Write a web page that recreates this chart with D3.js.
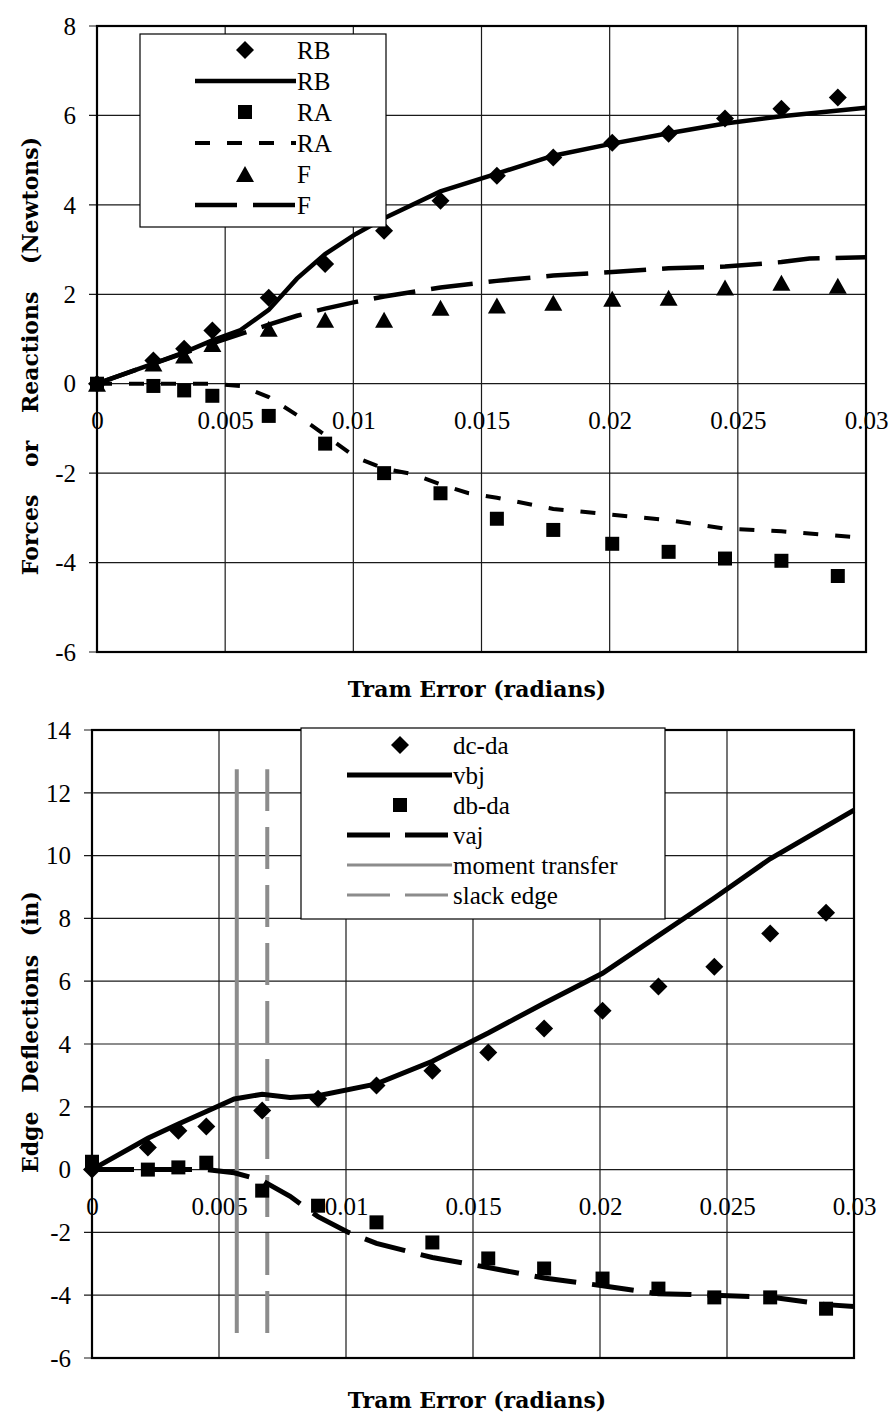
<!DOCTYPE html>
<html>
<head>
<meta charset="utf-8">
<script src="https://cdn.jsdelivr.net/npm/d3@7"></script>
<style>
  body { margin: 0; background: #fff; }
  svg { display: block; }
  text { font-family: "Liberation Serif", "Times New Roman", serif; fill: #000; }
  text.title { font-family: "DejaVu Serif", serif; font-weight: bold; }
</style>
</head>
<body>
<svg id="chart" width="891" height="1418"></svg>
<script>
// ---- data ----
const xTicks = [0, 0.005, 0.01, 0.015, 0.02, 0.025, 0.03];
const forceTicks = [-6, -4, -2, 0, 2, 4, 6, 8];
const deflTicks = [-6, -4, -2, 0, 2, 4, 6, 8, 10, 12, 14];

// measured points (markers), same tram error steps in both panels
const xMeas = [0, 0.0022, 0.0034, 0.0045, 0.0067, 0.0089, 0.0112, 0.0134, 0.0156, 0.0178, 0.0201, 0.0223, 0.0245, 0.0267, 0.0289];
const rbMeas = [0, 0.52, 0.78, 1.19, 1.92, 2.68, 3.42, 4.09, 4.65, 5.06, 5.39, 5.59, 5.93, 6.15, 6.4];
const raMeas = [0, -0.05, -0.15, -0.27, -0.72, -1.34, -2.0, -2.45, -3.02, -3.27, -3.58, -3.76, -3.91, -3.96, -4.3];
const fMeas = [0, 0.45, 0.63, 0.89, 1.23, 1.43, 1.43, 1.7, 1.75, 1.81, 1.9, 1.92, 2.15, 2.26, 2.19];
const dcdaMeas = [0, 0.7, 1.24, 1.37, 1.88, 2.26, 2.68, 3.15, 3.73, 4.49, 5.06, 5.83, 6.46, 7.52, 8.18];
const dbdaMeas = [0.25, 0, 0.07, 0.22, -0.67, -1.15, -1.68, -2.32, -2.83, -3.15, -3.47, -3.79, -4.07, -4.07, -4.43];

// model curves
const rbLineX = [0, 0.0022, 0.0034, 0.0045, 0.0056, 0.0067, 0.0078, 0.0089, 0.0101, 0.0112, 0.0134, 0.0156, 0.0178, 0.0201, 0.0223, 0.0245, 0.0267, 0.03];
const rbLine = [0, 0.45, 0.7, 0.97, 1.2, 1.65, 2.35, 2.9, 3.35, 3.7, 4.3, 4.7, 5.1, 5.37, 5.6, 5.82, 5.98, 6.17];
const raLineX = [0, 0.0045, 0.0056, 0.0067, 0.0078, 0.0089, 0.0101, 0.0112, 0.0123, 0.0134, 0.0145, 0.0156, 0.0178, 0.0201, 0.0223, 0.0245, 0.0267, 0.03];
const raLine = [0, 0, -0.05, -0.3, -0.7, -1.15, -1.65, -1.9, -2.02, -2.25, -2.45, -2.55, -2.8, -2.93, -3.05, -3.24, -3.3, -3.45];
const fLineX = [0, 0.0022, 0.0045, 0.0067, 0.0078, 0.0089, 0.0101, 0.0112, 0.0134, 0.0156, 0.0178, 0.0201, 0.0223, 0.0245, 0.0267, 0.0278, 0.03];
const fLine = [0, 0.45, 0.9, 1.32, 1.52, 1.68, 1.83, 1.95, 2.15, 2.3, 2.42, 2.5, 2.58, 2.62, 2.72, 2.8, 2.83];
const vbjX = [0, 0.0022, 0.0034, 0.0045, 0.0056, 0.0067, 0.0078, 0.0089, 0.0112, 0.0134, 0.0156, 0.0178, 0.0201, 0.0223, 0.0245, 0.0267, 0.03];
const vbj = [0, 1.0, 1.45, 1.85, 2.25, 2.4, 2.3, 2.35, 2.73, 3.45, 4.35, 5.3, 6.25, 7.45, 8.65, 9.9, 11.45];
const vajX = [0, 0.0045, 0.0056, 0.0067, 0.0078, 0.0089, 0.0101, 0.0112, 0.0134, 0.0156, 0.0178, 0.0201, 0.0223, 0.0245, 0.0267, 0.0289, 0.03];
const vaj = [0, 0, -0.1, -0.35, -0.85, -1.5, -2.0, -2.35, -2.8, -3.12, -3.45, -3.7, -3.95, -4.0, -4.06, -4.3, -4.36];

// vertical markers (x position, y extent)
const momentX = [0.0057, 0.0057], momentY = [-5.2, 12.75];
const slackX = [0.0069, 0.0069], slackY = [-5.2, 12.75];

// ---- drawing ----
const svg = d3.select("#chart");
const serif = "'Liberation Serif', 'Times New Roman', serif";
const fmtX = d => String(+d.toFixed(3));

const symbols = {
    diamond: "M0,-9L9,0L0,9L-9,0Z",
    square: "M-7,-7h14v14h-14Z",
    triangle: "M0,-8L9,8L-9,8Z"
};

function drawPanel(cfg) {
    const g = svg.append("g");
    const x = d3.scaleLinear().domain([0, 0.03]).range([cfg.left, cfg.right]);
    const y = d3.scaleLinear().domain(cfg.yDomain).range([cfg.bottom, cfg.top]);

    // grid
    g.append("g").selectAll("line").data(cfg.yTicks).enter().append("line")
        .attr("x1", cfg.left - 8).attr("x2", cfg.right)
        .attr("y1", d => y(d)).attr("y2", d => y(d))
        .attr("stroke", "#1a1a1a").attr("stroke-width", 1.2);
    g.append("g").selectAll("line").data(xTicks).enter().append("line")
        .attr("x1", d => x(d)).attr("x2", d => x(d))
        .attr("y1", cfg.top).attr("y2", cfg.bottom)
        .attr("stroke", "#1a1a1a").attr("stroke-width", 1.2);

    // y tick labels
    g.append("g").selectAll("text").data(cfg.yTicks).enter().append("text")
        .attr("x", cfg.left - 21).attr("y", d => y(d)).attr("dy", "0.35em")
        .attr("text-anchor", "end").attr("font-family", serif)
        .style("font-size", "25px").text(d => d);

    // x axis through zero, labels only
    const xAxis = d3.axisBottom(x).tickValues(xTicks).tickFormat(fmtX)
        .tickSize(0).tickPadding(28);
    const ax = g.append("g").attr("transform", "translate(0," + y(0) + ")").call(xAxis)
        .attr("font-family", serif).attr("font-size", 25);
    ax.select(".domain").remove();
    ax.selectAll("text").attr("fill", "#000");

    // frame
    g.append("rect").attr("x", cfg.left).attr("y", cfg.top)
        .attr("width", cfg.right - cfg.left).attr("height", cfg.bottom - cfg.top)
        .attr("fill", "none").attr("stroke", "#000").attr("stroke-width", 2.2);

    // axis titles
    g.append("text").attr("class", "title")
        .attr("x", cfg.xTitlePos[0]).attr("y", cfg.xTitlePos[1])
        .attr("text-anchor", "middle").style("font-size", "22px")
        .text("Tram Error (radians)");
    g.append("text").attr("class", "title")
        .attr("transform", "translate(" + cfg.yTitlePos[0] + "," + cfg.yTitlePos[1] + ") rotate(-90)")
        .attr("text-anchor", "middle").style("font-size", "22px")
        .style("word-spacing", cfg.yTitleWordSpacing)
        .text(cfg.yTitle);

    const line = d3.line().x(d => x(d[0])).y(d => y(d[1]));

    cfg.lines.forEach(s => {
        g.append("path").datum(d3.zip(s.x, s.y))
            .attr("d", line).attr("fill", "none")
            .attr("stroke", s.color || "#000").attr("stroke-width", s.width)
            .attr("stroke-dasharray", s.dash || null);
    });
    cfg.markers.forEach(s => {
        g.append("g").selectAll("path").data(d3.zip(s.x, s.y)).enter().append("path")
            .attr("transform", d => "translate(" + x(d[0]) + "," + y(d[1]) + ")")
            .attr("d", symbols[s.shape]).attr("fill", "#000");
    });

    // legend
    const L = cfg.legend;
    const lg = g.append("g");
    lg.append("rect").attr("x", L.x).attr("y", L.y).attr("width", L.w).attr("height", L.h)
        .attr("fill", "#fff").attr("stroke", "#000").attr("stroke-width", 1.2);
    L.items.forEach((it, i) => {
        const cy = L.firstRow + i * L.step;
        if (it.shape) {
            lg.append("path").attr("transform", "translate(" + L.markX + "," + cy + ")")
                .attr("d", symbols[it.shape]).attr("fill", "#000");
        } else {
            lg.append("line").attr("x1", L.lineX[0]).attr("x2", L.lineX[1])
                .attr("y1", cy).attr("y2", cy)
                .attr("stroke", it.color || "#000").attr("stroke-width", it.width)
                .attr("stroke-dasharray", it.dash || null);
        }
        lg.append("text").attr("x", L.textX).attr("y", cy).attr("dy", "0.35em")
            .attr("font-family", serif).style("font-size", "25px").text(it.label);
    });
}

drawPanel({
    left: 97, right: 866, top: 26, bottom: 652,
    yDomain: [-6, 8], yTicks: forceTicks,
    yTitle: "Forces or Reactions (Newtons)", yTitlePos: [38, 356], yTitleWordSpacing: "20px",
    xTitlePos: [477, 697],
    lines: [
        { x: rbLineX, y: rbLine, width: 4.5 },
        { x: raLineX, y: raLine, width: 4, dash: "15,17" },
        { x: fLineX, y: fLine, width: 4.5, dash: "42,16" }
    ],
    markers: [
        { x: xMeas, y: rbMeas, shape: "diamond" },
        { x: xMeas, y: raMeas, shape: "square" },
        { x: xMeas, y: fMeas, shape: "triangle" }
    ],
    legend: {
        x: 140, y: 34, w: 246, h: 193, firstRow: 50, step: 31,
        markX: 245, lineX: [195, 296], textX: 297,
        items: [
            { label: "RB", shape: "diamond" },
            { label: "RB", width: 4.5 },
            { label: "RA", shape: "square" },
            { label: "RA", width: 4, dash: "15,17" },
            { label: "F", shape: "triangle" },
            { label: "F", width: 4.5, dash: "42,16" }
        ]
    }
});

drawPanel({
    left: 92, right: 854, top: 730, bottom: 1358,
    yDomain: [-6, 14], yTicks: deflTicks,
    yTitle: "Edge Deflections (in)", yTitlePos: [38, 1032], yTitleWordSpacing: "11px",
    xTitlePos: [477, 1408],
    lines: [
        { x: momentX, y: momentY, width: 4, color: "#8c8c8c" },
        { x: slackX, y: slackY, width: 4, color: "#8c8c8c", dash: "42,16" },
        { x: vbjX, y: vbj, width: 5 },
        { x: vajX, y: vaj, width: 5, dash: "42,16" }
    ],
    markers: [
        { x: xMeas, y: dcdaMeas, shape: "diamond" },
        { x: xMeas, y: dbdaMeas, shape: "square" }
    ],
    legend: {
        x: 301, y: 728, w: 364, h: 191, firstRow: 745, step: 30,
        markX: 400, lineX: [347, 452], textX: 453,
        items: [
            { label: "dc-da", shape: "diamond" },
            { label: "vbj", width: 5 },
            { label: "db-da", shape: "square" },
            { label: "vaj", width: 5, dash: "43,15" },
            { label: "moment transfer", width: 3, color: "#8c8c8c" },
            { label: "slack edge", width: 3, color: "#8c8c8c", dash: "43,15" }
        ]
    }
});
</script>
</body>
</html>
